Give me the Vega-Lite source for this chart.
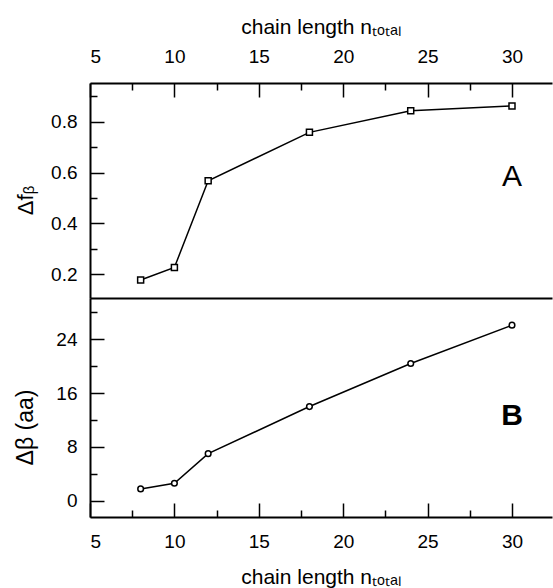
{
  "$schema": "https://vega.github.io/schema/vega-lite/v6.json",
  "width": 462,
  "height": 434,
  "autosize": {"type": "none"},
  "padding": {"left": 90, "top": 83, "right": 1, "bottom": 71},
  "background": "white",
  "config": {
    "view": {"stroke": null},
    "axis": {
      "grid": false,
      "domainColor": "black",
      "domainWidth": 2,
      "tickColor": "black",
      "tickWidth": 1.5,
      "labelColor": "black",
      "labelFont": "Liberation Sans",
      "labelFontSize": 19,
      "titleColor": "black",
      "titleFont": "Liberation Sans",
      "titleFontWeight": "normal",
      "titleFontSize": 21
    }
  },
  "datasets": {
    "A": [
      {"n": 8, "v": 0.178},
      {"n": 10, "v": 0.227},
      {"n": 12, "v": 0.568},
      {"n": 18, "v": 0.758},
      {"n": 24, "v": 0.843},
      {"n": 30, "v": 0.862}
    ],
    "B": [
      {"n": 8, "v": 1.75},
      {"n": 10, "v": 2.6},
      {"n": 12, "v": 7.0},
      {"n": 18, "v": 14.0},
      {"n": 24, "v": 20.4},
      {"n": 30, "v": 26.1}
    ]
  },
  "resolve": {"scale": {"y": "independent"}, "axis": {"x": "independent", "y": "independent"}},
  "layer": [
    {
      "data": {"name": "A"},
      "mark": {"type": "line", "color": "black", "strokeWidth": 1.5},
      "encoding": {
        "x": {
          "field": "n", "type": "quantitative",
          "scale": {"domain": [5, 32.37], "nice": false, "zero": false},
          "axis": {
            "orient": "top",
            "values": [5, 7.5, 10, 12.5, 15, 17.5, 20, 22.5, 25, 27.5, 30],
            "labelExpr": "datum.value % 5 === 0 ? datum.label : ''",
            "tickSize": {"condition": {"test": "datum.value % 5 === 0", "value": -14}, "value": -7},
            "labelPadding": 31,
            "title": "chain length nₜₒₜₐₗ",
            "titleX": 231,
            "titleY": -50,
            "titleBaseline": "alphabetic"
          }
        },
        "y": {
          "field": "v", "type": "quantitative",
          "scale": {"domain": [0.107, 0.952], "range": [215, 0], "nice": false, "zero": false},
          "axis": {
            "orient": "left",
            "values": [0.2, 0.3, 0.4, 0.5, 0.6, 0.7, 0.8, 0.9],
            "labelExpr": "round(datum.value * 10) % 2 === 0 ? datum.label : ''",
            "tickSize": {"condition": {"test": "round(datum.value * 10) % 2 === 0", "value": -14}, "value": -7},
            "labelPadding": 27,
            "title": "Δfᵦ",
            "titleFontSize": 22,
            "titleX": -65,
            "titleY": 117,
            "titleBaseline": "middle"
          }
        }
      }
    },
    {
      "data": {"name": "B"},
      "mark": {"type": "line", "color": "black", "strokeWidth": 1.5},
      "encoding": {
        "x": {
          "field": "n", "type": "quantitative",
          "scale": {"domain": [5, 32.37], "nice": false, "zero": false},
          "axis": {
            "orient": "bottom",
            "values": [5, 7.5, 10, 12.5, 15, 17.5, 20, 22.5, 25, 27.5, 30],
            "labelExpr": "datum.value % 5 === 0 ? datum.label : ''",
            "tickSize": {"condition": {"test": "datum.value % 5 === 0", "value": -14}, "value": -7},
            "labelPadding": 29,
            "title": "chain length nₜₒₜₐₗ",
            "titleX": 231,
            "titleY": 66,
            "titleBaseline": "alphabetic"
          }
        },
        "y": {
          "field": "v", "type": "quantitative",
          "scale": {"domain": [-2.42, 30.14], "range": [434, 215], "nice": false, "zero": false},
          "axis": {
            "orient": "left",
            "values": [0, 4, 8, 12, 16, 20, 24, 28],
            "labelExpr": "datum.value % 8 === 0 ? datum.label : ''",
            "tickSize": {"condition": {"test": "datum.value % 8 === 0", "value": -14}, "value": -7},
            "labelPadding": 27,
            "title": "Δβ (aa)",
            "titleFontSize": 23,
            "titleX": -65,
            "titleY": 344,
            "titleBaseline": "middle"
          }
        }
      }
    },
    {
      "data": {"name": "A"},
      "mark": {"type": "point", "shape": "square", "filled": true, "fill": "white", "stroke": "black", "strokeWidth": 1.5, "size": 36, "opacity": 1},
      "encoding": {
        "x": {"field": "n", "type": "quantitative", "scale": {"domain": [5, 32.37], "nice": false, "zero": false}, "axis": null},
        "y": {"field": "v", "type": "quantitative", "scale": {"domain": [0.107, 0.952], "range": [215, 0], "nice": false, "zero": false}, "axis": null}
      }
    },
    {
      "data": {"name": "B"},
      "mark": {"type": "point", "shape": "circle", "filled": true, "fill": "white", "stroke": "black", "strokeWidth": 1.5, "size": 32, "opacity": 1},
      "encoding": {
        "x": {
          "field": "n", "type": "quantitative",
          "scale": {"domain": [5, 32.37], "nice": false, "zero": false},
          "axis": {"orient": "top", "offset": -215, "ticks": false, "labels": false, "title": null, "domain": true}
        },
        "y": {"field": "v", "type": "quantitative", "scale": {"domain": [-2.42, 30.14], "range": [434, 215], "nice": false, "zero": false}, "axis": null}
      }
    },
    {
      "data": {"values": [{}]},
      "mark": {"type": "text", "text": "A", "font": "Liberation Sans", "fontSize": 30, "color": "black", "align": "center", "baseline": "middle"},
      "encoding": {
        "x": {"datum": 30, "type": "quantitative", "scale": {"domain": [5, 32.37], "nice": false, "zero": false}, "axis": null},
        "y": {"datum": 0.583, "type": "quantitative", "scale": {"domain": [0.107, 0.952], "range": [215, 0], "nice": false, "zero": false}, "axis": null}
      }
    },
    {
      "data": {"values": [{}]},
      "mark": {"type": "text", "text": "B", "font": "Liberation Sans", "fontSize": 30, "fontWeight": "bold", "color": "black", "align": "center", "baseline": "middle"},
      "encoding": {
        "x": {"datum": 30, "type": "quantitative", "scale": {"domain": [5, 32.37], "nice": false, "zero": false}, "axis": null},
        "y": {"datum": 12.64, "type": "quantitative", "scale": {"domain": [-2.42, 30.14], "range": [434, 215], "nice": false, "zero": false}, "axis": null}
      }
    }
  ]
}
